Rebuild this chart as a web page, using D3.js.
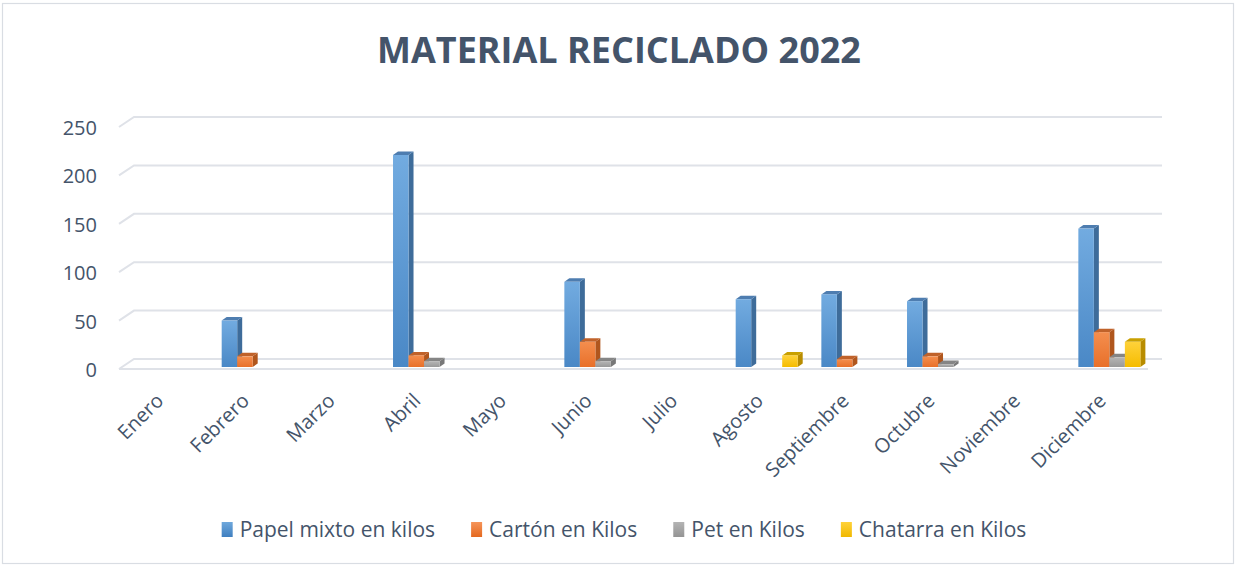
<!DOCTYPE html>
<html>
<head>
<meta charset="utf-8">
<script src="https://cdn.jsdelivr.net/npm/d3@7"></script>
<style>
  html, body { margin: 0; padding: 0; background: #fff; }
  svg { display: block; }
  text { font-family: "Open Sans", "DejaVu Sans", sans-serif; fill: #44546A; }
</style>
</head>
<body>
<svg id="chart" width="1235" height="566"></svg>
<script>
// ---- data ----
const months = ["Enero","Febrero","Marzo","Abril","Mayo","Junio","Julio","Agosto","Septiembre","Octubre","Noviembre","Diciembre"];
const seriesNames = ["Papel mixto en kilos","Cartón en Kilos","Pet en Kilos","Chatarra en Kilos"];
const papel    = [0, 48, 0, 219, 0, 88, 0, 70, 75, 68, 0, 143];
const carton   = [0, 11, 0, 12, 0, 26, 0, 0, 8, 11, 0, 36];
const pet      = [0, 0, 0, 6, 0, 6, 0, 0, 0, 3, 0, 10];
const chatarra = [0, 0, 0, 0, 0, 0, 0, 12, 0, 0, 0, 26];
const yTicks = [0, 50, 100, 150, 200, 250];
const titleText = "MATERIAL RECICLADO 2022";

const seriesValues = [papel, carton, pet, chatarra];
const palette = [
  {front: ["#72ABE0", "#4A88C6"], side: "#3E6C9A", top: "#4E7DB0", key: ["#6FA8DC","#3F7FC0"]},
  {front: ["#F48E4E", "#E8702A"], side: "#B0561D", top: "#C0622A", key: ["#F6955A","#E4681F"]},
  {front: ["#B5B5B5", "#999999"], side: "#787878", top: "#858585", key: ["#B4B4B4","#949494"]},
  {front: ["#FFD23A", "#F5BC00"], side: "#B88C00", top: "#C9A000", key: ["#FFD23A","#F0B800"]}
];

const svg = d3.select("#chart");
const defs = svg.append("defs");
palette.forEach((p, i) => {
  const g = defs.append("linearGradient").attr("id", "gf" + i).attr("x1", 0).attr("y1", 0).attr("x2", 0).attr("y2", 1);
  g.append("stop").attr("offset", "0%").attr("stop-color", p.front[0]);
  g.append("stop").attr("offset", "100%").attr("stop-color", p.front[1]);
  const k = defs.append("linearGradient").attr("id", "gk" + i).attr("x1", 0).attr("y1", 0).attr("x2", 0).attr("y2", 1);
  k.append("stop").attr("offset", "0%").attr("stop-color", p.key[0]);
  k.append("stop").attr("offset", "100%").attr("stop-color", p.key[1]);
});

// chart border
svg.append("rect").attr("x", 2.5).attr("y", 3.5).attr("width", 1231).attr("height", 560)
  .attr("fill", "none").attr("stroke", "#D9DDE3").attr("stroke-width", 1.2);

// title
svg.append("text").attr("x", 619).attr("y", 63).attr("text-anchor", "middle")
  .style("font-size", "36px").style("font-weight", "700").text(titleText);

// scales
const x0 = d3.scaleBand().domain(months).range([120, 1148]).paddingInner(0).paddingOuter(0);
const bw = x0.bandwidth();
const x1 = d3.scaleBand().domain(seriesNames).range([bw * 0.187, bw * 0.187 + bw * 0.724]);
const y = d3.scaleLinear().domain([0, 250]).range([367, 125]);

const frontDy = 2, backDy = -8;
const wallDx = 15;
const gridColor = "#DFE2E8";

// gridlines (side wall diagonal + back wall)
const grid = svg.append("g");
yTicks.forEach(v => {
  const fy = y(v) + frontDy, by = y(v) + backDy;
  grid.append("path")
    .attr("d", `M${119},${fy}L${119 + wallDx},${by}L${1162},${by}`)
    .attr("fill", "none").attr("stroke", gridColor).attr("stroke-width", 2);
});
// floor front edge
grid.append("line").attr("x1", 119).attr("x2", 1148).attr("y1", y(0) + frontDy).attr("y2", y(0) + frontDy)
  .attr("stroke", gridColor).attr("stroke-width", 2);

// y tick labels
const yAxis = svg.append("g");
yTicks.forEach(v => {
  yAxis.append("text").attr("x", 97).attr("y", y(v) + 3).attr("dy", "0.35em")
    .attr("text-anchor", "end").style("font-size", "20px").text(v);
});

// bars (3D-like)
const bdx = 5, bdy = -3.5;
const bars = svg.append("g");
months.forEach((m, mi) => {
  seriesNames.forEach((s, si) => {
    const v = seriesValues[si][mi];
    if (!v) return;
    const xl = x0(m) + x1(s), xr = xl + x1.bandwidth();
    const yt = y(v), yb = y(0);
    const p = palette[si];
    bars.append("path")
      .attr("d", `M${xr},${yt}L${xr + bdx},${yt + bdy}L${xr + bdx},${yb + bdy}L${xr},${yb}Z`)
      .attr("fill", p.side);
    bars.append("path")
      .attr("d", `M${xl},${yt}L${xl + bdx},${yt + bdy}L${xr + bdx},${yt + bdy}L${xr},${yt}Z`)
      .attr("fill", p.top);
    bars.append("rect").attr("x", xl).attr("y", yt).attr("width", xr - xl).attr("height", yb - yt)
      .attr("fill", `url(#gf${si})`);
  });
});

// x labels
const xAxis = svg.append("g");
months.forEach(m => {
  const cx = x0(m) + bw / 2 + 2;
  xAxis.append("text")
    .attr("transform", `translate(${cx},${402}) rotate(-45)`)
    .attr("text-anchor", "end").style("font-size", "20px").text(m);
});

// legend
const legend = svg.append("g");
let lx = 0;
seriesNames.forEach((s, i) => {
  const g = legend.append("g");
  g.append("rect").attr("x", 0).attr("y", -15).attr("width", 11).attr("height", 15).attr("fill", `url(#gk${i})`);
  const t = g.append("text").attr("x", 18).attr("y", 0).style("font-size", "21px").text(s);
  const w = 18 + t.node().getComputedTextLength();
  g.attr("transform", `translate(${lx},0)`);
  lx += w + 36;
});
const totalW = lx - 36;
legend.attr("transform", `translate(${624 - totalW / 2},${537})`);
</script>
</body>
</html>
